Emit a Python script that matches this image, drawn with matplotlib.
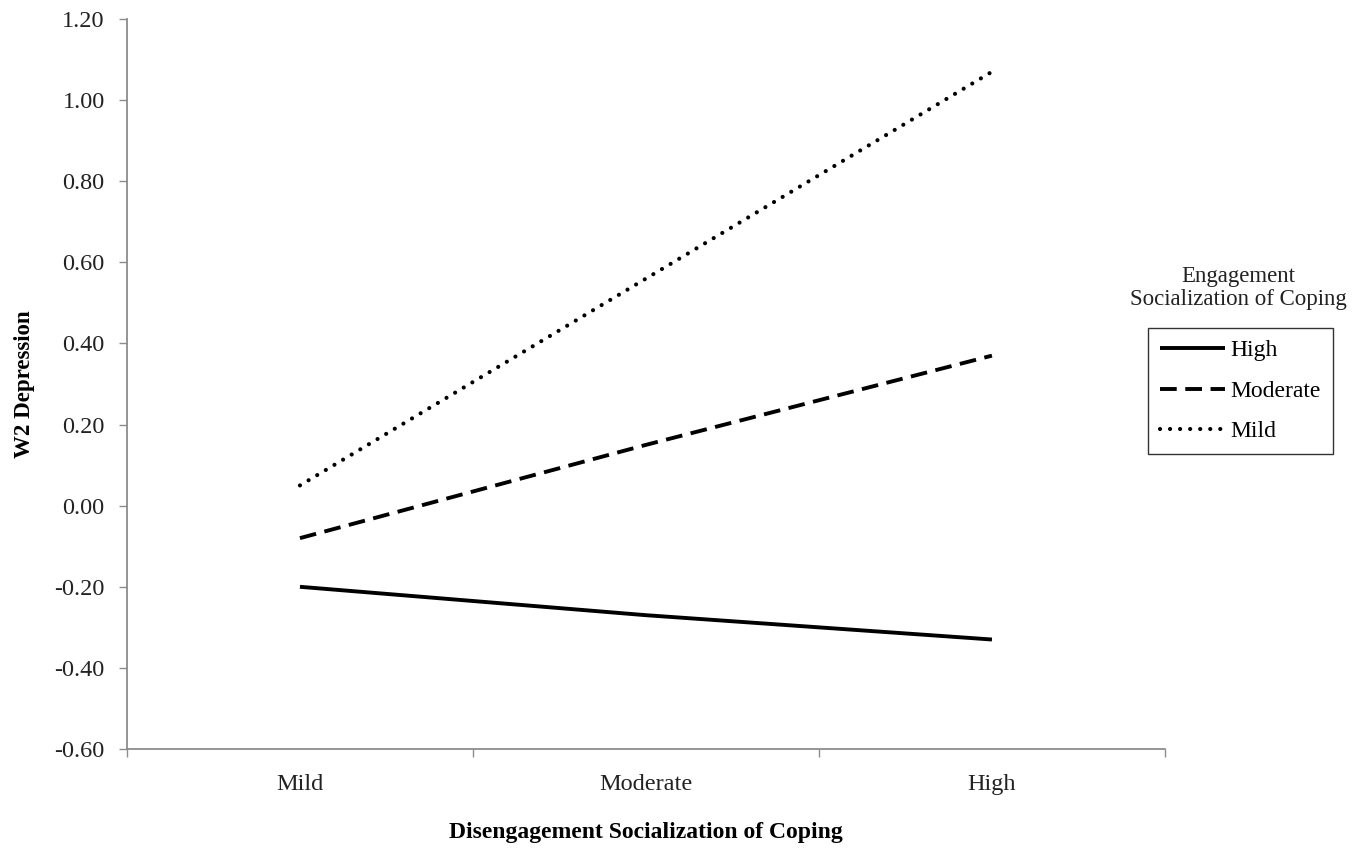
import matplotlib.pyplot as plt

# values
categories = ['Mild', 'Moderate', 'High']
series_names = ['High', 'Moderate', 'Mild']
high_vals = [-0.20, -0.27, -0.33]
moderate_vals = [-0.08, 0.15, 0.37]
mild_vals = [0.05, 0.56, 1.07]
y_ticks = [-0.60, -0.40, -0.20, 0.00, 0.20, 0.40, 0.60, 0.80, 1.00, 1.20]

plt.rcParams['font.family'] = ['Liberation Serif', 'DejaVu Serif']

fig = plt.figure(figsize=(13.71, 8.5), dpi=100)
ax = fig.add_axes([0.0926, 0.1188, 0.7571, 0.8588])

x = list(range(len(categories)))
l1, = ax.plot(x, high_vals, color='black', lw=2.8, solid_capstyle='butt')
l2, = ax.plot(x, moderate_vals, color='black', lw=2.8, linestyle=(0, (4.3, 2.2)),
              dash_capstyle='butt')
l3, = ax.plot(x, mild_vals, color='black', lw=3.0, linestyle=(0, (0.01, 2.4)),
              dash_capstyle='round')

ax.set_xlim(-0.5, 2.5)
ax.set_ylim(-0.60, 1.20)
ax.set_yticks(y_ticks)
ax.set_yticklabels(['%.2f' % v for v in y_ticks])
ax.set_xticks([-0.5, 0.5, 1.5, 2.5])
ax.set_xticklabels([])
ax.set_xticks(x, minor=True)
ax.set_xticklabels(categories, minor=True)

spine_col = '#8c8c8c'
for s in ['top', 'right']:
    ax.spines[s].set_visible(False)
for s in ['left', 'bottom']:
    ax.spines[s].set_color(spine_col)
    ax.spines[s].set_linewidth(1.3)
ax.tick_params(axis='both', which='major', direction='out', length=6,
               width=1.0, color=spine_col, labelsize=17.5, labelcolor='#222222')
ax.tick_params(axis='x', which='minor', length=0, pad=18, labelsize=17.5,
               labelcolor='#222222')
ax.tick_params(axis='y', pad=10)

ax.set_ylabel('W2 Depression', fontsize=16.5, fontweight='bold')
ax.yaxis.set_label_coords(-0.099, 0.5)
ax.yaxis.label.set_va('center')
ax.set_xlabel('Disengagement Socialization of Coping', fontsize=17,
              fontweight='bold')
ax.xaxis.set_label_coords(0.5, -0.115)
ax.xaxis.label.set_va('center')

fig.text(0.903, 0.661, 'Engagement\nSocialization of Coping', ha='center',
         va='center', fontsize=16.5, color='#222222', linespacing=1.15)
leg = fig.legend([l1, l2, l3], series_names, loc='upper left',
                 bbox_to_anchor=(0.8373, 0.6141), frameon=True, fancybox=False,
                 fontsize=17, handlelength=2.75, handletextpad=0.25,
                 borderpad=0.5, labelspacing=0.8, borderaxespad=0)
leg.get_frame().set_edgecolor('black')
leg.get_frame().set_linewidth(1.0)

fig.savefig('out.png', dpi=100)
